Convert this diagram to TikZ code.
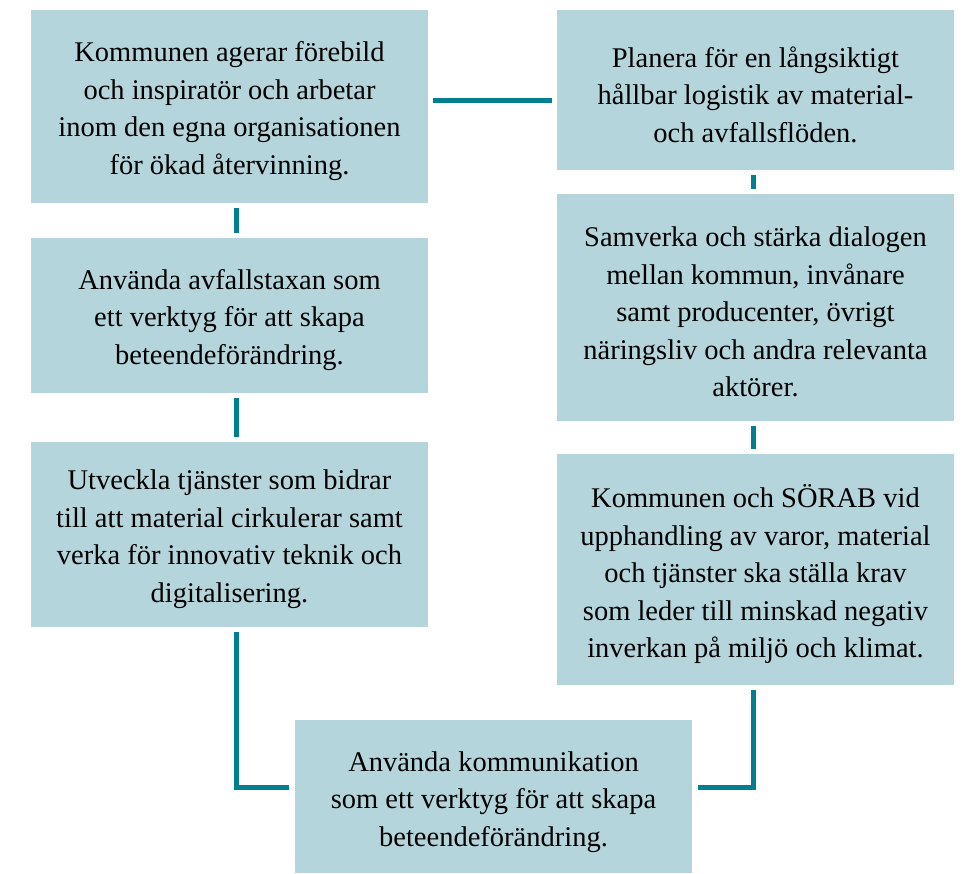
\documentclass[tikz,border=0pt]{standalone}
\usepackage{fontspec}
\setmainfont{Liberation Serif}
\definecolor{boxfill}{HTML}{B4D5DC}
\definecolor{linecol}{HTML}{007F91}
\begin{document}
\begin{tikzpicture}[x=1pt,y=-1pt,
  box/.style={fill=boxfill, draw=none, inner sep=0pt, minimum width=397pt},
  txt/.style={inner sep=0pt, align=center, font=\fontsize{28.5}{37.5}\selectfont, text=black},
  conn/.style={draw=linecol, line width=5pt, line cap=butt, shorten >=5pt, shorten <=5pt}]
\useasboundingbox (0,0) rectangle (966,873);
\node[box, minimum height=193pt] (b1) at (229.5,106.5) {};
\node[box, minimum height=155pt] (b2) at (229.5,315.5) {};
\node[box, minimum height=185pt] (b3) at (229.5,534.5) {};
\node[box, minimum height=160pt] (b4) at (755.5,90) {};
\node[box, minimum height=227pt] (b5) at (755.5,307.5) {};
\node[box, minimum height=231pt] (b6) at (755.5,569.5) {};
\node[box, minimum height=153pt] (b7) at (493.5,796.5) {};
\node[txt] (t1) at ([yshift=-4.5pt]b1.center) {Kommunen agerar förebild\\och inspiratör och arbetar\\inom den egna organisationen\\för ökad återvinning.};
\node[txt] (t2) at ([yshift=-4.5pt]b2.center) {Använda avfallstaxan som\\ett verktyg för att skapa\\beteendeförändring.};
\node[txt] (t3) at ([yshift=-4.5pt]b3.center) {Utveckla tjänster som bidrar\\till att material cirkulerar samt\\verka för innovativ teknik och\\digitalisering.};
\node[txt] (t4) at ([yshift=-4.5pt]b4.center) {Planera för en långsiktigt\\hållbar logistik av material-\\och avfallsflöden.};
\node[txt] (t5) at ([yshift=-4.5pt]b5.center) {Samverka och stärka dialogen\\mellan kommun, invånare\\samt producenter, övrigt\\näringsliv och andra relevanta\\aktörer.};
\node[txt] (t6) at ([yshift=-4.5pt]b6.center) {Kommunen och SÖRAB vid\\upphandling av varor, material\\och tjänster ska ställa krav\\som leder till minskad negativ\\inverkan på miljö och klimat.};
\node[txt] (t7) at ([yshift=-5.5pt]b7.center) {Använda kommunikation\\som ett verktyg för att skapa\\beteendeförändring.};
\coordinate (c1) at ([yshift=6.5pt]b1.east);
\draw[conn] (c1) -- (c1 -| b4.west);
\draw[conn] ([xshift=6.5pt]b1.south) -- ([xshift=6.5pt]b2.north);
\draw[conn] ([xshift=6.5pt]b2.south) -- ([xshift=6.5pt]b3.north);
\draw[conn] ([xshift=-2.5pt]b4.south) -- ([xshift=-2.5pt]b5.north);
\draw[conn] ([xshift=-2.5pt]b5.south) -- ([xshift=-2.5pt]b6.north);
\coordinate (l1) at ([xshift=6.5pt]b3.south);
\coordinate (l2) at ([yshift=9.5pt]b7.west);
\draw[conn, line join=miter, shorten >=6pt] (l1) |- (l2);
\coordinate (r1) at ([xshift=-2.5pt]b6.south);
\coordinate (r2) at ([yshift=9.5pt]b7.east);
\draw[conn, line join=miter, shorten >=6pt] (r1) |- (r2);
\end{tikzpicture}
\end{document}
